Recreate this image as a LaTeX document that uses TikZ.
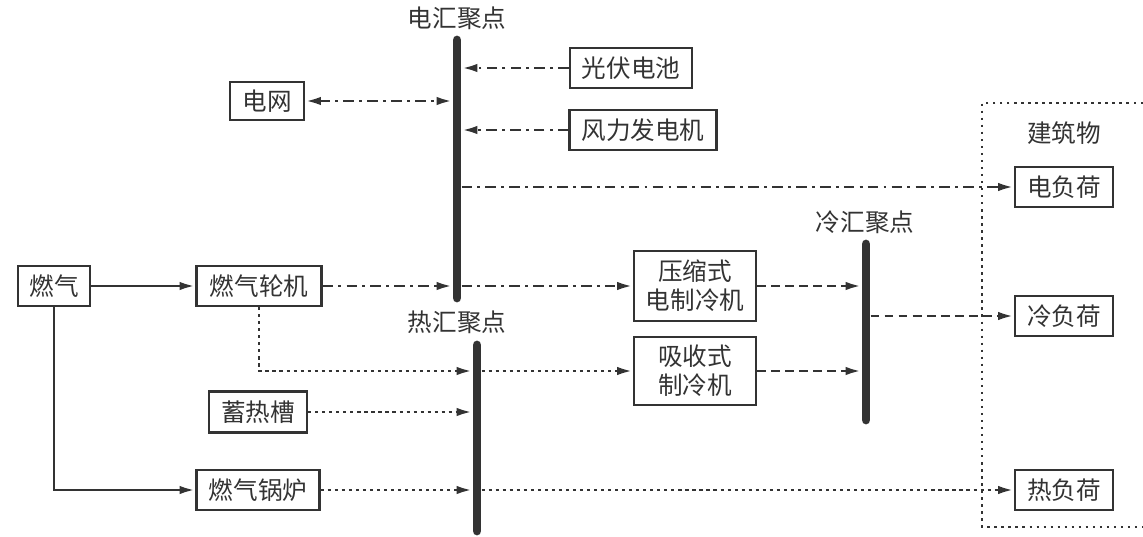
\documentclass[tikz,border=0pt]{standalone}
\usepackage{fontspec}
\setmainfont{Noto Sans CJK SC}
\usetikzlibrary{arrows.meta}
\definecolor{ink}{HTML}{333333}
\tikzset{
  box/.style={draw=ink, line width=1.3pt, inner sep=0pt, minimum height=40*0.02cm, align=center, font=\fontsize{14}{17.5}\selectfont, text=ink},
  lbl/.style={font=\fontsize{14}{17.5}\selectfont, text=ink, inner sep=0pt},
  bar/.style={draw=ink, line width=5pt, line cap=round},
  conn/.style={draw=ink, line width=1.6pt, -{Latex[length=9pt,width=4.8pt]}},
  dashdot/.style={dash pattern=on 6pt off 3pt on 1.6pt off 3pt},
  dotline/.style={dash pattern=on 1.8pt off 2.2pt},
  dashline/.style={dash pattern=on 5pt off 3pt},
  tobar/.style={shorten >=2.6pt},
  frombar/.style={shorten <=2.6pt}
}
\begin{document}
\begin{tikzpicture}[x=0.02cm, y=-0.02cm]
\useasboundingbox (0,0) rectangle (1143,537);
% bars
\coordinate (et) at (457,40); \coordinate (eb) at (457,298);
\coordinate (ht) at (477,345); \coordinate (hb) at (477,531);
\coordinate (ct) at (866,244); \coordinate (cb) at (866,420);
\node[lbl] (el) at (457,18) {电汇聚点};
\node[lbl] (hl) at (457,322) {热汇聚点};
\node[lbl] (cl) at (865,222) {冷汇聚点};
% boxes
\node[box, minimum width=122*0.02cm] (pv) at (631,68) {光伏电池};
\node[box, minimum width=147*0.02cm] (wind) at (643,130) {风力发电机};
\node[box, minimum width=74*0.02cm, minimum height=38*0.02cm] (grid) at (267,101) {电网};
\node[box, minimum width=98*0.02cm] (eload) at (1064,187) {电负荷};
\node[box, minimum width=98*0.02cm] (cload) at (1064,316) {冷负荷};
\node[box, minimum width=98*0.02cm] (hload) at (1064,490) {热负荷};
\node[lbl] (bld) at (1064,133) {建筑物};
\node[box, minimum width=72*0.02cm] (gas) at (54,286) {燃气};
\node[box, minimum width=125*0.02cm] (gt) at (259,286) {燃气轮机};
\node[box, minimum width=122*0.02cm, minimum height=70*0.02cm] (comp) at (695,286) {压缩式\\[-1pt]电制冷机};
\node[box, minimum width=122*0.02cm, minimum height=68*0.02cm] (abs) at (695,371) {吸收式\\[-1pt]制冷机};
\node[box, minimum width=98*0.02cm, minimum height=41*0.02cm] (tank) at (258,412) {蓄热槽};
\node[box, minimum width=123*0.02cm] (boil) at (258,490) {燃气锅炉};
% building frame
\coordinate (f1) at (1143,103); \coordinate (f2) at (982,103);
\coordinate (f3) at (982,527); \coordinate (f4) at (1143,527);
\draw[ink, line width=1.4pt, dash pattern=on 1.4pt off 2.6pt] (f1) -- (f2) -- (f3) -- (f4);
% electric
\draw[conn, dashdot, tobar] (pv.west) -- (pv.west -| et);
\draw[conn, dashdot, tobar] (wind.west) -- (wind.west -| et);
\draw[conn, dashdot, tobar, {Latex[length=9pt,width=4.8pt]}-{Latex[length=9pt,width=4.8pt]}] (grid.east) -- (grid.east -| et);
\draw[conn, dashdot, frombar] (eload.west -| et) -- (eload.west);
\draw[conn, dashdot, tobar] (gt.east) -- (gt.east -| et);
\draw[conn, dashdot, frombar] (gt.east -| et) -- (comp.west |- gt.east);
% gas
\draw[conn] (gas.east) -- (gt.west);
\coordinate (gc) at (gas.south |- boil.west);
\draw[conn] (gas.south) -- (gc) -- (boil.west);
% heat
\coordinate (gtc) at (gt.south |- abs.west);
\draw[conn, dotline, tobar] (gt.south) -- (gtc) -- (abs.west -| ht);
\draw[conn, dotline, frombar] (abs.west -| ht) -- (abs.west);
\draw[conn, dotline, tobar] (tank.east) -- (tank.east -| ht);
\draw[conn, dotline, tobar] (boil.east) -- (boil.east -| ht);
\draw[conn, dotline, frombar] (boil.east -| ht) -- (hload.west);
% cold
\draw[conn, dashline, tobar] (comp.east) -- (comp.east -| ct);
\draw[conn, dashline, tobar] (abs.east) -- (abs.east -| ct);
\draw[conn, dashline, frombar] (cload.west -| ct) -- (cload.west);
% bars on top
\draw[bar] (et) -- (eb);
\draw[bar] (ht) -- (hb);
\draw[bar] (ct) -- (cb);
\end{tikzpicture}
\end{document}
